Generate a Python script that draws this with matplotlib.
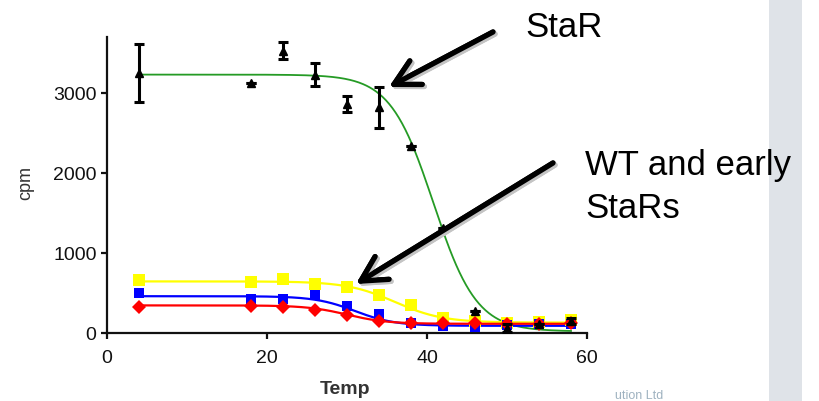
import numpy as np
import matplotlib
matplotlib.use("Agg")
import matplotlib.pyplot as plt
from matplotlib.patches import Rectangle

plt.rcParams["font.family"] = ["Liberation Sans", "DejaVu Sans"]

# Thermostability assay: counts remaining after heating at each temperature
temps = [4, 18, 22, 26, 30, 34, 38, 42, 46, 50, 54, 58]
star_cpm = [3250, 3130, 3530, 3230, 2860, 2820, 2340, 1310, 275, 60, 110, 150]
star_err = [360, 0, 110, 140, 100, 260, 0, 0, 0, 50, 0, 40]
wt_cpm = [660, 640, 680, 610, 580, 480, 350, 190, 150, 120, 140, 160]
early1_cpm = [500, 430, 420, 480, 340, 240, 130, 90, 80, 100, 110, 110]
early2_cpm = [330, 340, 320, 290, 230, 150, 130, 130, 120, 110, 115, 120]

# Boltzmann fit parameters: (top, bottom, Tm, slope)
star_fit = (3230, 20, 40.8, 2.7)
wt_fit = (645, 130, 36.0, 3.0)
early1_fit = (460, 90, 31.0, 2.5)
early2_fit = (345, 115, 30.0, 2.5)

x_ticks = [0, 20, 40, 60]
y_ticks = [0, 1000, 2000, 3000]

W, H = 819, 401


def fx(px):
    return px / W


def fy(py):
    return 1 - py / H


def boltzmann(t, top, bottom, tm, slope):
    return bottom + (top - bottom) / (1 + np.exp((t - tm) / slope))


fig = plt.figure(figsize=(W / 100, H / 100), dpi=100)
fig.patch.set_facecolor("white")

# grey side band
fig.patches.append(Rectangle((fx(769), 0), fx(802) - fx(769), 1,
                             transform=fig.transFigure, facecolor="#dfe3e8",
                             edgecolor="none", zorder=0))

ax = fig.add_axes([fx(107), fy(333), fx(587) - fx(107), fy(37) - fy(333)])
ax.set_facecolor("none")

t_fine = np.linspace(4, 58, 400)
ax.plot(t_fine, boltzmann(t_fine, *star_fit), color="#259b25", lw=1.3, zorder=2)

series = [
    (wt_cpm, wt_fit, "#ffff00", "s", 8.5),
    (early1_cpm, early1_fit, "#0000ff", "s", 7.5),
    (early2_cpm, early2_fit, "#ff0000", "D", 7),
]
for vals, fit, col, mk, ms in series:
    ax.plot(t_fine, boltzmann(t_fine, *fit), color=col, lw=1.6, zorder=3)
    ax.plot(temps, vals, linestyle="none", marker=mk, ms=ms, color=col,
            markeredgewidth=0, zorder=4)

ax.errorbar(temps, star_cpm, yerr=star_err, fmt="^", color="black", ms=6,
            ecolor="black", elinewidth=2.2, capsize=3.5, capthick=2.2,
            zorder=5)

ax.set_xlim(0, 60)
ax.set_ylim(0, 3700)
ax.set_xticks(x_ticks)
ax.set_yticks(y_ticks)
for side in ("top", "right"):
    ax.spines[side].set_visible(False)
for side in ("left", "bottom"):
    ax.spines[side].set_linewidth(1.6)
    ax.spines[side].set_color("#111111")
ax.tick_params(axis="both", length=4.5, width=1.6, color="#111111",
               labelsize=14, labelcolor="#111111")
ax.tick_params(axis="x", pad=8)
ax.tick_params(axis="y", pad=3)

fig.text(fx(26), fy(183), "cpm", rotation=90, ha="center", va="center",
         fontsize=13, color="#333333")
fig.text(fx(345), fy(390), "Temp", ha="center", va="center",
         fontsize=14, fontweight="bold", color="#333333")

# callout labels
fig.text(fx(525), fy(37), "StaR", fontsize=25, ha="left", va="baseline",
         color="black")
fig.text(fx(585), fy(175), "WT and early", fontsize=25, ha="left",
         va="baseline", color="black")
fig.text(fx(585), fy(218), "StaRs", fontsize=25, ha="left", va="baseline",
         color="black")

arrows = [((493, 32), (389, 87)), ((553, 163), (356, 284))]
style = "->,head_length=0.6,head_width=0.32"
for (tx, ty), (hx, hy) in arrows:
    # soft drop shadow, then the arrow itself
    fig.add_artist(plt.annotate(
        "", xy=(fx(hx + 2), fy(hy + 2)), xytext=(fx(tx + 2), fy(ty + 2)),
        xycoords="figure fraction", textcoords="figure fraction",
        arrowprops=dict(arrowstyle=style, lw=3.8, color="#c4c4c4",
                        mutation_scale=30, shrinkA=0, shrinkB=0)))
    fig.add_artist(plt.annotate(
        "", xy=(fx(hx), fy(hy)), xytext=(fx(tx), fy(ty)),
        xycoords="figure fraction", textcoords="figure fraction",
        arrowprops=dict(arrowstyle=style, lw=3.8, color="black",
                        mutation_scale=30, shrinkA=0, shrinkB=0)))

fig.text(fx(615), fy(399), "ution Ltd", fontsize=9, ha="left",
         va="baseline", color="#9fb2c0")

fig.savefig("out.png", dpi=100)
